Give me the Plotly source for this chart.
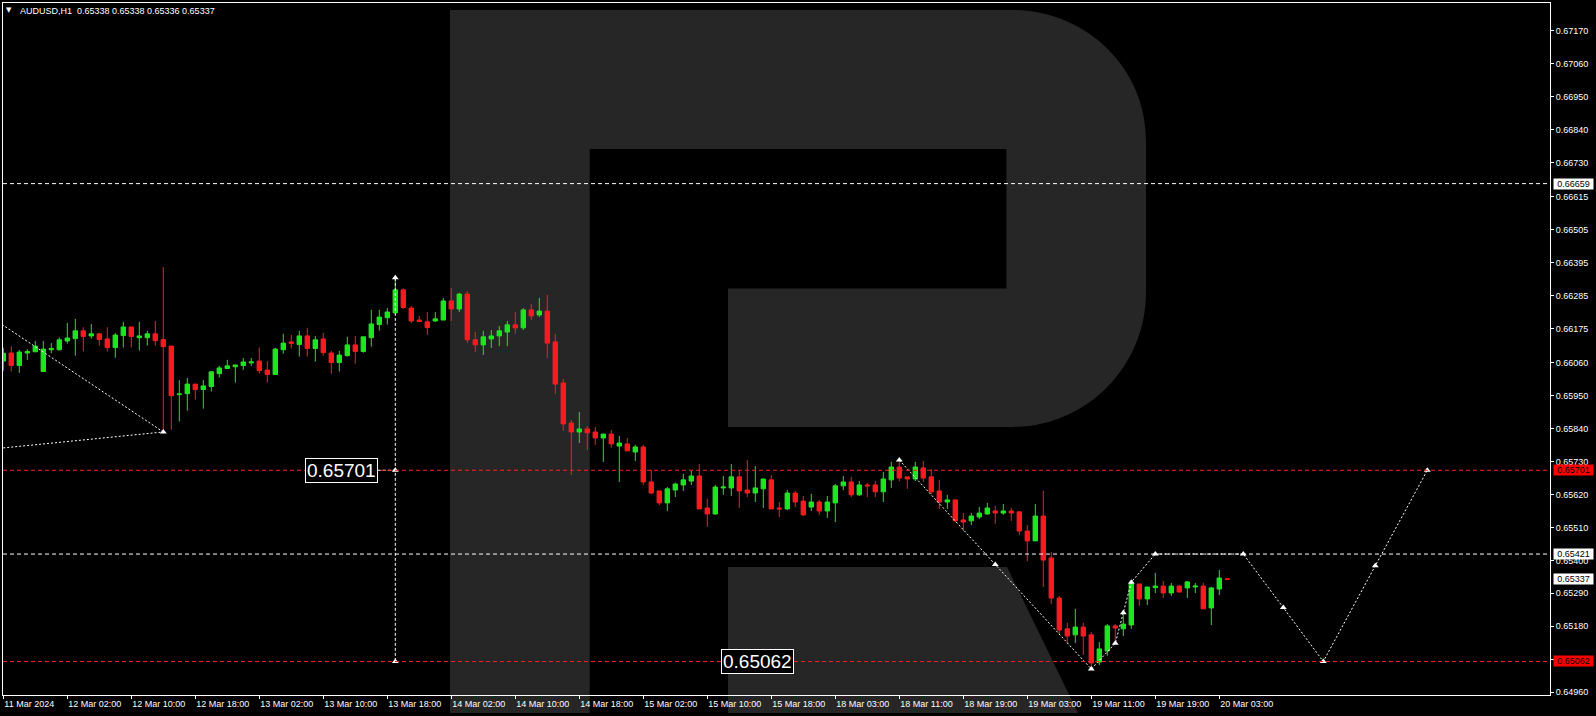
import plotly.graph_objects as go

# ---------------- data (H1 bars, index 0 = 11 Mar 2024 18:00) ----------------
bar_index = list(range(154))

open_ = [0.66066, 0.66093, 0.66051, 0.66093, 0.66097, 0.66031, 0.66104, 0.66104, 0.66133, 0.66141,
         0.66167, 0.66150, 0.66157, 0.66140, 0.66111, 0.66151, 0.66180, 0.66144, 0.66144, 0.66157,
         0.66138, 0.66116, 0.65954, 0.65957, 0.65989, 0.65971, 0.65981, 0.66024, 0.66041, 0.66047,
         0.66051, 0.66060, 0.66066, 0.66036, 0.66021, 0.66104, 0.66130, 0.66121, 0.66150, 0.66108,
         0.66140, 0.66093, 0.66061, 0.66084, 0.66120, 0.66098, 0.66144, 0.66188, 0.66211, 0.66227,
         0.66304, 0.66243, 0.66203, 0.66197, 0.66200, 0.66203, 0.66267, 0.66240, 0.66290, 0.66137,
         0.66120, 0.66140, 0.66150, 0.66163, 0.66187, 0.66177, 0.66237, 0.66220, 0.66233, 0.66130,
         0.65993, 0.65859, 0.65829, 0.65839, 0.65829, 0.65809, 0.65822, 0.65782, 0.65789, 0.65762,
         0.65779, 0.65662, 0.65632, 0.65592, 0.65635, 0.65652, 0.65665, 0.65682, 0.65575, 0.65555,
         0.65642, 0.65642, 0.65679, 0.65635, 0.65625, 0.65639, 0.65669, 0.65575, 0.65572, 0.65625,
         0.65598, 0.65578, 0.65595, 0.65565, 0.65592, 0.65649, 0.65662, 0.65619, 0.65652, 0.65652,
         0.65629, 0.65669, 0.65712, 0.65679, 0.65672, 0.65709, 0.65679, 0.65632, 0.65595, 0.65602,
         0.65535, 0.65532, 0.65545, 0.65555, 0.65565, 0.65558, 0.65565, 0.65562, 0.65498, 0.65465,
         0.65548, 0.65408, 0.65274, 0.65171, 0.65151, 0.65177, 0.65151, 0.65060, 0.65097, 0.65181,
         0.65171, 0.65184, 0.65321, 0.65271, 0.65309, 0.65314, 0.65291, 0.65314, 0.65308, 0.65311,
         0.65314, 0.65241, 0.65304, 0.65338]
high = [0.66111, 0.66115, 0.66103, 0.66106, 0.66133, 0.66133, 0.66126, 0.66145, 0.66193, 0.66207,
        0.66179, 0.66190, 0.66160, 0.66179, 0.66160, 0.66197, 0.66180, 0.66197, 0.66167, 0.66200,
        0.66380, 0.66116, 0.66002, 0.66010, 0.65989, 0.66003, 0.66033, 0.66050, 0.66070, 0.66053,
        0.66076, 0.66076, 0.66111, 0.66066, 0.66110, 0.66157, 0.66153, 0.66167, 0.66177, 0.66150,
        0.66160, 0.66100, 0.66100, 0.66147, 0.66150, 0.66147, 0.66237, 0.66237, 0.66243, 0.66344,
        0.66309, 0.66250, 0.66217, 0.66230, 0.66230, 0.66277, 0.66310, 0.66294, 0.66299, 0.66163,
        0.66167, 0.66170, 0.66183, 0.66200, 0.66230, 0.66243, 0.66257, 0.66277, 0.66287, 0.66157,
        0.66006, 0.65869, 0.65896, 0.65849, 0.65846, 0.65822, 0.65836, 0.65816, 0.65809, 0.65786,
        0.65786, 0.65702, 0.65632, 0.65645, 0.65660, 0.65689, 0.65699, 0.65722, 0.65605, 0.65652,
        0.65682, 0.65722, 0.65699, 0.65735, 0.65715, 0.65672, 0.65685, 0.65595, 0.65635, 0.65632,
        0.65615, 0.65622, 0.65602, 0.65615, 0.65655, 0.65682, 0.65679, 0.65665, 0.65659, 0.65665,
        0.65695, 0.65729, 0.65733, 0.65679, 0.65729, 0.65732, 0.65705, 0.65669, 0.65619, 0.65602,
        0.65558, 0.65558, 0.65578, 0.65592, 0.65582, 0.65588, 0.65575, 0.65562, 0.65518, 0.65588,
        0.65632, 0.65428, 0.65281, 0.65191, 0.65238, 0.65191, 0.65161, 0.65127, 0.65187, 0.65187,
        0.65218, 0.65331, 0.65321, 0.65311, 0.65358, 0.65331, 0.65324, 0.65318, 0.65331, 0.65324,
        0.65324, 0.65311, 0.65368, 0.65338]
low = [0.66034, 0.66031, 0.66027, 0.66070, 0.66097, 0.66031, 0.66092, 0.66101, 0.66124, 0.66084,
       0.66098, 0.66141, 0.66118, 0.66098, 0.66077, 0.66111, 0.66111, 0.66101, 0.66118, 0.66118,
       0.65829, 0.65837, 0.65864, 0.65900, 0.65937, 0.65907, 0.65964, 0.66011, 0.66041, 0.65994,
       0.66037, 0.66050, 0.66024, 0.65994, 0.66021, 0.66091, 0.66108, 0.66081, 0.66081, 0.66064,
       0.66084, 0.66024, 0.66031, 0.66081, 0.66057, 0.66094, 0.66114, 0.66168, 0.66188, 0.66227,
       0.66240, 0.66193, 0.66198, 0.66153, 0.66197, 0.66203, 0.66200, 0.66230, 0.66126, 0.66096,
       0.66086, 0.66110, 0.66116, 0.66116, 0.66157, 0.66170, 0.66203, 0.66213, 0.66076, 0.65956,
       0.65832, 0.65685, 0.65792, 0.65769, 0.65786, 0.65729, 0.65776, 0.65662, 0.65766, 0.65732,
       0.65652, 0.65622, 0.65585, 0.65565, 0.65612, 0.65632, 0.65652, 0.65572, 0.65512, 0.65552,
       0.65619, 0.65615, 0.65575, 0.65612, 0.65595, 0.65575, 0.65572, 0.65545, 0.65568, 0.65578,
       0.65548, 0.65565, 0.65552, 0.65542, 0.65528, 0.65635, 0.65612, 0.65615, 0.65612, 0.65612,
       0.65595, 0.65642, 0.65665, 0.65639, 0.65665, 0.65662, 0.65622, 0.65572, 0.65572, 0.65528,
       0.65498, 0.65518, 0.65538, 0.65552, 0.65522, 0.65552, 0.65532, 0.65485, 0.65398, 0.65465,
       0.65311, 0.65254, 0.65154, 0.65124, 0.65124, 0.65084, 0.65039, 0.65050, 0.65081, 0.65131,
       0.65147, 0.65171, 0.65248, 0.65251, 0.65291, 0.65274, 0.65281, 0.65294, 0.65274, 0.65291,
       0.65238, 0.65184, 0.65284, 0.65336]
close = [0.66092, 0.66051, 0.66096, 0.66098, 0.66116, 0.66106, 0.66108, 0.66137, 0.66143, 0.66167,
         0.66148, 0.66157, 0.66138, 0.66111, 0.66153, 0.66180, 0.66148, 0.66150, 0.66157, 0.66134,
         0.66114, 0.65950, 0.65956, 0.65989, 0.65971, 0.65983, 0.66030, 0.66043, 0.66050, 0.66053,
         0.66063, 0.66063, 0.66034, 0.66021, 0.66106, 0.66126, 0.66125, 0.66150, 0.66108, 0.66137,
         0.66094, 0.66061, 0.66086, 0.66120, 0.66098, 0.66147, 0.66190, 0.66213, 0.66230, 0.66304,
         0.66245, 0.66200, 0.66198, 0.66178, 0.66207, 0.66267, 0.66240, 0.66290, 0.66137, 0.66120,
         0.66147, 0.66150, 0.66167, 0.66187, 0.66177, 0.66237, 0.66217, 0.66233, 0.66126, 0.65989,
         0.65856, 0.65829, 0.65839, 0.65826, 0.65809, 0.65822, 0.65789, 0.65792, 0.65766, 0.65779,
         0.65662, 0.65625, 0.65592, 0.65639, 0.65655, 0.65669, 0.65682, 0.65572, 0.65555, 0.65645,
         0.65645, 0.65679, 0.65632, 0.65625, 0.65642, 0.65672, 0.65572, 0.65572, 0.65625, 0.65595,
         0.65552, 0.65595, 0.65565, 0.65595, 0.65649, 0.65662, 0.65619, 0.65652, 0.65649, 0.65629,
         0.65672, 0.65712, 0.65675, 0.65672, 0.65712, 0.65675, 0.65629, 0.65595, 0.65602, 0.65532,
         0.65528, 0.65548, 0.65558, 0.65575, 0.65558, 0.65565, 0.65558, 0.65498, 0.65465, 0.65548,
         0.65401, 0.65274, 0.65167, 0.65147, 0.65177, 0.65147, 0.65057, 0.65104, 0.65181, 0.65174,
         0.65187, 0.65321, 0.65271, 0.65311, 0.65314, 0.65291, 0.65314, 0.65294, 0.65328, 0.65314,
         0.65238, 0.65308, 0.65341, 0.65337]

x_tick_bars = [0, 8, 16, 24, 32, 40, 48, 56, 64, 72, 80, 88, 96, 104, 112, 120, 128, 136, 144, 152]
x_tick_labels = ["11 Mar 2024", "12 Mar 02:00", "12 Mar 10:00", "12 Mar 18:00", "13 Mar 02:00",
                 "13 Mar 10:00", "13 Mar 18:00", "14 Mar 02:00", "14 Mar 10:00", "14 Mar 18:00",
                 "15 Mar 02:00", "15 Mar 10:00", "15 Mar 18:00", "18 Mar 03:00", "18 Mar 11:00",
                 "18 Mar 19:00", "19 Mar 03:00", "19 Mar 11:00", "19 Mar 19:00", "20 Mar 03:00"]
y_tick_values = [0.67170, 0.67060, 0.66950, 0.66840, 0.66730, 0.66615, 0.66505, 0.66395, 0.66285,
                 0.66175, 0.66060, 0.65950, 0.65840, 0.65730, 0.65620, 0.65510, 0.65400, 0.65290,
                 0.65180, 0.65070, 0.64960]
y_tick_labels = [f"{v:.5f}" for v in y_tick_values]

level_white = [0.66659, 0.65421]
level_red = [0.65701, 0.65062]
current_price = 0.65337
title_text = "AUDUSD,H1\u00a0\u00a00.65338 0.65338 0.65336 0.65337"

# forecast path (bar index, price)
forecast_bars = [112, 124, 136, 139, 140, 141, 144, 155, 160, 165, 171.5, 178]
forecast_prices = [0.65735, 0.65386, 0.65037, 0.65123, 0.65225, 0.65327, 0.65421, 0.65421,
                   0.65242, 0.65062, 0.65382, 0.65701]
old_line_a_bars = [-1, 20]
old_line_a_prices = [0.66203, 0.65829]
old_line_b_bars = [-1, 20]
old_line_b_prices = [0.65773, 0.65829]
target_bar = 49
target_prices = [0.66344, 0.65701, 0.65062]
label_box_bars = [46.8, 98.8]          # right edge of the big level labels
label_box_prices = [0.65701, 0.65062]

# ---------------- styling ----------------
GREEN = "#1ee61e"
RED = "#ff1a1a"
WM = "#262626"
FONT = "Liberation Sans"
X0, X1 = -0.0375, 193.3375
Y0, Y1 = 0.64950, 0.672626

# pixel helpers for the background watermark (decoration only)
L_, T_, W_, H_ = 3, 3, 1547, 692


def pp(px, py):
    return f"{(px - L_) / W_:.5f},{(T_ + H_ - py) / H_:.5f}"


r_body = ("M" + pp(450, 10) + " L" + pp(1012, 10) +
          " C" + pp(1086, 10) + " " + pp(1146, 68) + " " + pp(1146, 140) +
          " L" + pp(1146, 292) +
          " C" + pp(1146, 367) + " " + pp(1086, 427) + " " + pp(1012, 427) +
          " L" + pp(728, 427) + " L" + pp(728, 288.6) + " L" + pp(1006.4, 288.6) +
          " L" + pp(1006.4, 148.9) + " L" + pp(589.7, 148.9) + " L" + pp(589.7, 713) +
          " L" + pp(450, 713) + " Z")
r_leg = ("M" + pp(728, 567) + " L" + pp(1007, 567) + " L" + pp(1078, 713) +
         " L" + pp(728, 713) + " Z")

fig = go.Figure()

fig.add_trace(go.Candlestick(
    x=bar_index, open=open_, high=high, low=low, close=close,
    increasing=dict(line=dict(color=GREEN, width=1), fillcolor=GREEN),
    decreasing=dict(line=dict(color=RED, width=1), fillcolor=RED),
    whiskerwidth=0, hoverinfo="skip", showlegend=False))

dotted = dict(color="white", width=1, dash="2px,2px")
for xs, ys in [(old_line_a_bars, old_line_a_prices), (old_line_b_bars, old_line_b_prices),
               (forecast_bars, forecast_prices)]:
    fig.add_trace(go.Scatter(x=xs, y=ys, mode="lines", line=dotted,
                             hoverinfo="skip", showlegend=False))

fig.add_trace(go.Scatter(x=[target_bar] * 2, y=[target_prices[0], target_prices[-1]], mode="lines",
                         line=dict(color="white", width=1, dash="3px,2px"),
                         hoverinfo="skip", showlegend=False))
fig.add_trace(go.Scatter(x=[label_box_bars[0], target_bar], y=[label_box_prices[0]] * 2, mode="lines",
                         line=dict(color="white", width=1, dash="3px,2px"),
                         hoverinfo="skip", showlegend=False))
fig.add_trace(go.Scatter(x=[label_box_bars[1], label_box_bars[1] + 0.5], y=[label_box_prices[1]] * 2,
                         mode="lines", line=dict(color="white", width=1),
                         hoverinfo="skip", showlegend=False))

mk_x = forecast_bars + [target_bar] * 3 + [old_line_a_bars[-1]]
mk_y = forecast_prices + target_prices + [old_line_a_prices[-1]]
fig.add_trace(go.Scatter(x=mk_x, y=mk_y, mode="markers",
                         marker=dict(symbol="triangle-up", size=6, color="white"),
                         hoverinfo="skip", showlegend=False))

shapes = [
    dict(type="path", path=r_body, xref="paper", yref="paper", fillcolor=WM,
         line=dict(width=0), layer="below"),
    dict(type="path", path=r_leg, xref="paper", yref="paper", fillcolor=WM,
         line=dict(width=0), layer="below"),
]
for v in level_white:
    shapes.append(dict(type="line", xref="paper", x0=0, x1=1, yref="y", y0=v, y1=v,
                       line=dict(color="white", width=1, dash="4px,3px"), layer="above"))
for v in level_red:
    shapes.append(dict(type="line", xref="paper", x0=0, x1=1, yref="y", y0=v, y1=v,
                       line=dict(color="#ff2020", width=1, dash="4px,3px"), layer="above"))

annotations = []
for bx, v in zip(label_box_bars, label_box_prices):
    annotations.append(dict(x=bx, y=v, xref="x", yref="y", xanchor="right", yanchor="middle",
                            text=f"{v:.5f}", showarrow=False,
                            font=dict(family=FONT, size=19, color="white"),
                            bgcolor="black", bordercolor="white", borderwidth=1, borderpad=1))

axis_boxes = [(level_white[0], "white"), (level_red[0], "#ff0000"), (level_white[1], "white"),
              (current_price, "white"), (level_red[1], "#ff0000")]
for v, bg in axis_boxes:
    annotations.append(dict(x=(1552.5 - L_) / W_, y=v, xref="paper", yref="y",
                            xanchor="left", yanchor="middle", text=f"{v:.5f}", showarrow=False,
                            width=39, height=10, align="center",
                            font=dict(family=FONT, size=9, color="black"),
                            bgcolor=bg, borderpad=0))

annotations.append(dict(x=(18 - L_) / W_, y=(T_ + H_ - 11) / H_, xref="paper", yref="paper",
                        xanchor="left", yanchor="middle", text=title_text, showarrow=False,
                        font=dict(family=FONT, size=9, color="white")))
annotations.append(dict(x=(8.5 - L_) / W_, y=(T_ + H_ - 10) / H_, xref="paper", yref="paper",
                        xanchor="center", yanchor="middle", text="▼", showarrow=False,
                        font=dict(family="DejaVu Sans", size=7, color="white")))

fig.update_layout(
    width=1596, height=716,
    margin=dict(l=L_, r=1596 - L_ - W_, t=T_, b=716 - T_ - H_, pad=0),
    paper_bgcolor="black", plot_bgcolor="rgba(0,0,0,0)",
    boxgap=0.45, boxgroupgap=0,
    shapes=shapes, annotations=annotations,
    font=dict(family=FONT, size=9, color="white"),
    xaxis=dict(range=[X0, X1], showgrid=False, zeroline=False, showline=True, linecolor="white",
               linewidth=1, mirror=True, ticks="outside", ticklen=3, tickcolor="white",
               tickvals=x_tick_bars, ticktext=x_tick_labels, ticklabelposition="outside right",
               tickfont=dict(family=FONT, size=9, color="white"),
               rangeslider=dict(visible=False), fixedrange=True),
    yaxis=dict(range=[Y0, Y1], side="right", showgrid=False, zeroline=False, showline=True,
               linecolor="white", linewidth=1, mirror=True, ticks="outside", ticklen=3,
               tickcolor="white", tickvals=y_tick_values, ticktext=y_tick_labels,
               tickfont=dict(family=FONT, size=9, color="white"), fixedrange=True),
)

fig.write_html("out.html", config={"displayModeBar": False},
               post_script="document.body.style.margin='0';document.body.style.overflow='hidden';"
                           "document.body.style.background='black';")
